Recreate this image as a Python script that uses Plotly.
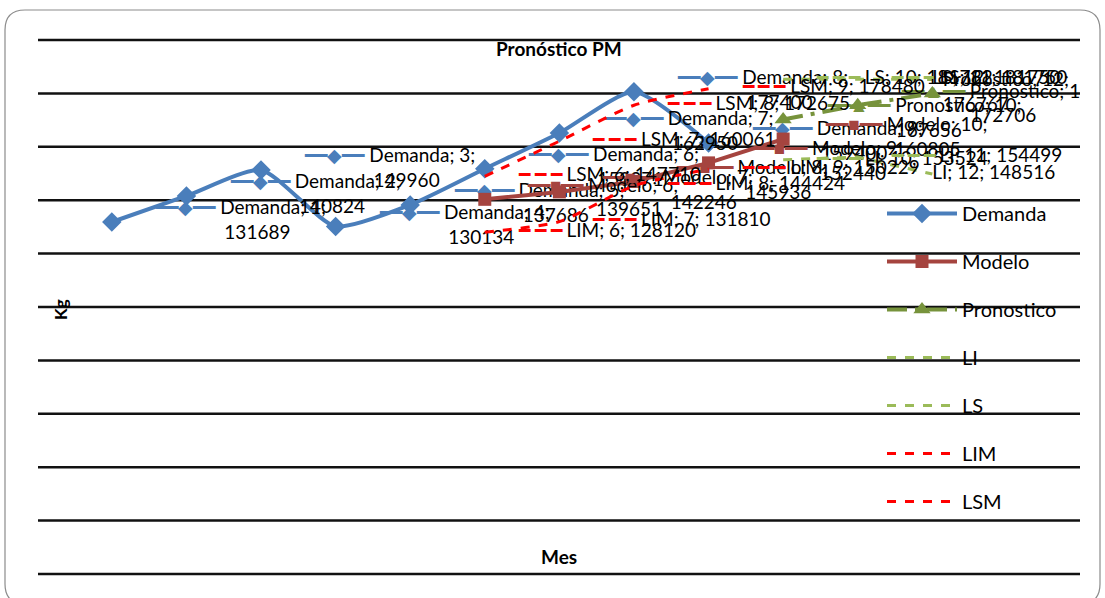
import plotly.graph_objects as go

# Months on the x axis
mes = list(range(1, 13))

# Observed demand (kg), months 1-9
demanda_mes = [1, 2, 3, 4, 5, 6, 7, 8, 9]
demanda = [131689, 140824, 149960, 130134, 137686, 150371, 162950, 177400, 159400]

# Fitted model, months 6-10
modelo_mes = [6, 7, 8, 9, 10]
modelo = [139651, 142246, 145936, 152440, 160805]

# Model limits, months 6-9
lim_mes = [6, 7, 8, 9]
lim = [128120, 131810, 144424, 150229]
lsm = [147710, 160061, 172675, 178480]

# Forecast and its limits, months 10-12
prono_mes = [10, 11, 12]
pronostico = [167656, 172706, 176767]
li = [153524, 154499, 148516]
ls = [181782, 181750, 181750]

BLUE = "#4A7EBB"
RED = "#A5443F"
GREEN = "#77933C"
LGREEN = "#9BBB59"
BRIGHT_RED = "#FF0000"

FONT = "Lato"
NB = "&nbsp;"
LAST = max(mes)


def labels(name, xs, ys, key, color, wrap):
    out = []
    for x, y in zip(xs, ys):
        # labels at the last month are kept short so they stay inside the frame
        if x == LAST:
            k = ""
            pad = ""
        else:
            k = f'{NB * 7}<span style="color:{color}">{key}</span>{NB}'
            pad = NB * 21
        if wrap:
            out.append(f"{k}{name}; {x};<br>{pad}{y}")
        else:
            out.append(f"{k}{name}; {x}; {y}")
    return out


def series(name, xs, ys, color, key, wrap, group, line, marker=None):
    return go.Scatter(
        x=xs, y=ys, name=name, legendgroup=group,
        mode="lines+markers+text" if marker else "lines+text",
        line=line, marker=marker,
        text=labels(name, xs, ys, key, color, wrap),
        textposition="middle right",
        textfont=dict(family=FONT, size=19, color="black"),
    )


fig = go.Figure()

fig.add_trace(series(
    "Demanda", demanda_mes, demanda, BLUE, "━━◆━━", True, "g1",
    dict(color=BLUE, width=4, shape="spline", smoothing=0.6),
    dict(symbol="diamond", size=15, color=BLUE)))

fig.add_trace(series(
    "Modelo", modelo_mes, modelo, RED, "━━■━━", True, "g2",
    dict(color=RED, width=4),
    dict(symbol="square", size=13, color=RED)))

fig.add_trace(series(
    "Pronostico", prono_mes, pronostico, GREEN, "━━▲━━", True, "g3",
    dict(color=GREEN, width=4, dash="longdashdot"),
    dict(symbol="triangle-up", size=15, color=GREEN)))

fig.add_trace(series(
    "LI", prono_mes, li, LGREEN, "━ ━ ━", False, "g4",
    dict(color=LGREEN, width=3, dash="dash")))

fig.add_trace(series(
    "LS", prono_mes, ls, LGREEN, "━ ━ ━", False, "g5",
    dict(color=LGREEN, width=3, dash="dash")))

fig.add_trace(series(
    "LIM", lim_mes, lim, BRIGHT_RED, "━ ━ ━", False, "g6",
    dict(color=BRIGHT_RED, width=3, dash="dash", shape="spline", smoothing=0.6)))

fig.add_trace(series(
    "LSM", lim_mes, lsm, BRIGHT_RED, "━ ━ ━", False, "g7",
    dict(color=BRIGHT_RED, width=3, dash="dash", shape="spline", smoothing=0.6)))

# Horizontal rules across the chart body
shapes = []
for k in range(11):
    yy = 1 - k / 10
    shapes.append(dict(type="line", xref="paper", yref="paper",
                       x0=0, x1=1, y0=yy, y1=yy,
                       line=dict(color="#111111", width=2.5), layer="below"))

# Rounded outer frame (paper units; plot area is 1042 x 534 px)
fx0, fx1 = -33 / 1042, 1062 / 1042
fy0, fy1 = -30 / 534, 564 / 534
rx, ry = 20 / 1042, 20 / 534
frame = (f"M {fx0 + rx} {fy1} L {fx1 - rx} {fy1} Q {fx1} {fy1} {fx1} {fy1 - ry} "
         f"L {fx1} {fy0 + ry} Q {fx1} {fy0} {fx1 - rx} {fy0} "
         f"L {fx0 + rx} {fy0} Q {fx0} {fy0} {fx0} {fy0 + ry} "
         f"L {fx0} {fy1 - ry} Q {fx0} {fy1} {fx0 + rx} {fy1} Z")
shapes.append(dict(type="path", xref="paper", yref="paper", path=frame,
                   line=dict(color="#8C8C8C", width=1.2), layer="below"))

annotations = [
    dict(text="<b>Pronóstico PM</b>", x=0.5, y=(574 - 48) / 534,
         xref="paper", yref="paper", showarrow=False, yanchor="middle",
         font=dict(family=FONT, size=19, color="black")),
    dict(text="<b>Mes</b>", x=0.5, y=(574 - 556) / 534,
         xref="paper", yref="paper", showarrow=False, yanchor="middle",
         font=dict(family=FONT, size=19, color="black")),
    dict(text="<b>Kg</b>", x=(60 - 38) / 1042, y=(574 - 310) / 534,
         xref="paper", yref="paper", showarrow=False, textangle=-90,
         xanchor="center", yanchor="middle",
         font=dict(family=FONT, size=17, color="black")),
]

fig.update_layout(
    width=1105, height=598,
    margin=dict(l=38, r=25, t=40, b=24),
    paper_bgcolor="white", plot_bgcolor="rgba(0,0,0,0)",
    showlegend=True,
    legend=dict(x=(882 - 38) / 1042, y=(574 - 194) / 534,
                xanchor="left", yanchor="top",
                font=dict(family=FONT, size=20, color="black"),
                bgcolor="rgba(0,0,0,0)", itemwidth=70,
                tracegroupgap=19),
    xaxis=dict(range=[0.01, 13.98], visible=False),
    yaxis=dict(range=[8137, 195571], visible=False),
    shapes=shapes, annotations=annotations,
)

fig.write_html("out.html")
